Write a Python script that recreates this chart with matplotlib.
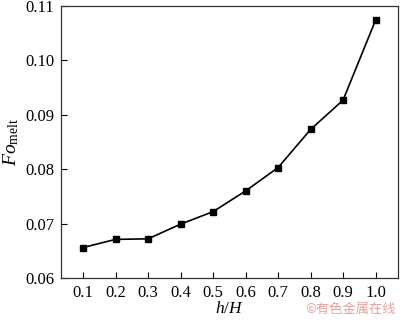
import matplotlib
matplotlib.use('Agg')
import matplotlib.pyplot as plt

# h/H positions and melt Fourier number
hH = [0.1, 0.2, 0.3, 0.4, 0.5, 0.6, 0.7, 0.8, 0.9, 1.0]
fo_melt = [0.0656, 0.0671, 0.0672, 0.0699, 0.0722, 0.0760, 0.0803, 0.0873, 0.0927, 0.1074]
xticks = [0.1, 0.2, 0.3, 0.4, 0.5, 0.6, 0.7, 0.8, 0.9, 1.0]
yticks = [0.06, 0.07, 0.08, 0.09, 0.10, 0.11]

plt.rcParams['font.family'] = ['Liberation Serif', 'DejaVu Serif']
plt.rcParams['mathtext.fontset'] = 'custom'
plt.rcParams['mathtext.rm'] = 'Liberation Serif'
plt.rcParams['mathtext.it'] = 'Liberation Serif:italic'

fig = plt.figure(figsize=(4, 3.2), dpi=100)
ax = fig.add_axes([61/400, 42/320, 337/400, 272/320])

ax.plot(hH, fo_melt, color='black', linewidth=1.2, marker='s', markersize=5)

ax.set_xlim(0.032, 1.069)
ax.set_ylim(0.06, 0.11)
ax.set_xticks(xticks)
ax.set_xticklabels(['%.1f' % v for v in xticks])
ax.set_yticks(yticks)
ax.set_yticklabels(['%.2f' % v for v in yticks])
ax.tick_params(direction='in', length=4, width=0.8, labelsize=12, pad=5)
for s in ax.spines.values():
    s.set_linewidth(0.9)
    s.set_color('#333333')

ax.set_xlabel(r'$h/H$', fontsize=12.5, labelpad=0)
ax.set_ylabel(r'$Fo_{\mathrm{melt}}$', fontsize=14, labelpad=3)

fig.text(0.99, 0.012, '©有色金属在线', color='#e8a0a0', fontsize=9.5,
         ha='right', va='bottom', family=['Noto Sans CJK SC', 'DejaVu Sans'])

plt.savefig('out.png', dpi=100)
